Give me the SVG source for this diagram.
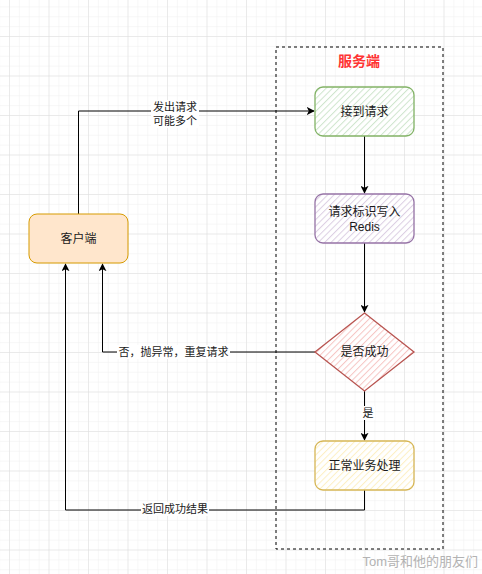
<svg xmlns="http://www.w3.org/2000/svg" width="482" height="574" viewBox="0 0 482 574">
<defs>
<pattern id="gridMinor" x="9" y="-3.5" width="9.875" height="9.875" patternUnits="userSpaceOnUse">
<path d="M0 0 H9.875 M0 0 V9.875" fill="none" stroke="#f0f0f0" stroke-width="1"/>
</pattern>
<pattern id="gridMajor" x="9" y="-3.5" width="39.5" height="39.5" patternUnits="userSpaceOnUse">
<path d="M0 0 H39.5 M0 0 V39.5" fill="none" stroke="#dedede" stroke-width="1"/>
</pattern>
<pattern id="hGreen" width="4.5" height="4.5" patternUnits="userSpaceOnUse" patternTransform="rotate(45)">
<rect width="4.5" height="4.5" fill="#ffffff"/><line x1="0" y1="0" x2="0" y2="4.5" stroke="#cfe5cd" stroke-width="2"/>
</pattern>
<pattern id="hPurple" width="4.5" height="4.5" patternUnits="userSpaceOnUse" patternTransform="rotate(45)">
<rect width="4.5" height="4.5" fill="#ffffff"/><line x1="0" y1="0" x2="0" y2="4.5" stroke="#dccfe3" stroke-width="2"/>
</pattern>
<pattern id="hRed" width="4.5" height="4.5" patternUnits="userSpaceOnUse" patternTransform="rotate(45)">
<rect width="4.5" height="4.5" fill="#ffffff"/><line x1="0" y1="0" x2="0" y2="4.5" stroke="#f6c6c4" stroke-width="2"/>
</pattern>
<pattern id="hYellow" width="4.5" height="4.5" patternUnits="userSpaceOnUse" patternTransform="rotate(45)">
<rect width="4.5" height="4.5" fill="#ffffff"/><line x1="0" y1="0" x2="0" y2="4.5" stroke="#fdefc4" stroke-width="2"/>
</pattern>
<marker id="arrow" viewBox="0 0 10 10" refX="9" refY="5" markerWidth="8" markerHeight="8" markerUnits="userSpaceOnUse" orient="auto">
<path d="M0 0 L10 5 L0 10 L2.5 5 Z" fill="#000"/>
</marker>
</defs>
<style>
text { font-family: "Liberation Sans", "Noto Sans CJK SC", sans-serif; fill: #1a1a1a; }
.node { font-size: 12px; text-anchor: middle; dominant-baseline: central; }
.lbl { font-size: 11px; text-anchor: middle; dominant-baseline: central; }
.edge { fill: none; stroke: #000; stroke-width: 1; }
.bg { fill: #ffffff; }
</style>
<rect width="482" height="574" fill="#ffffff"/>
<rect width="482" height="574" fill="url(#gridMinor)"/>
<rect width="482" height="574" fill="url(#gridMajor)"/>

<g id="server-container">
<rect x="276" y="47" width="167" height="502" fill="none" stroke="#000" stroke-width="1" stroke-dasharray="3 3"/>
<text x="359" y="61" style="font-size:14px;font-weight:bold;fill:#ff3333;text-anchor:middle;dominant-baseline:central;">服务端</text>
</g>

<g id="connectors">
<path class="edge" d="M78.5 214 V111 H314" marker-end="url(#arrow)"/>
<rect x="151" y="100" width="48" height="28" class="bg"/>
<text class="lbl" x="175" y="107">发出请求</text>
<text class="lbl" x="175" y="121">可能多个</text>

<path class="edge" d="M364.5 136 V193" marker-end="url(#arrow)"/>
<path class="edge" d="M364.5 243 V312" marker-end="url(#arrow)"/>

<path class="edge" d="M315 352 H102.5 V264" marker-end="url(#arrow)"/>
<rect x="117" y="345" width="113" height="14" class="bg"/>
<text class="lbl" x="173.5" y="352">否，抛异常，重复请求</text>

<path class="edge" d="M364.5 391 V440" marker-end="url(#arrow)"/>
<rect x="361" y="406" width="14" height="14" class="bg"/>
<text class="lbl" x="368" y="413">是</text>

<path class="edge" d="M364.5 490 V510 H65.5 V264" marker-end="url(#arrow)"/>
<rect x="141" y="502" width="68" height="14" class="bg"/>
<text class="lbl" x="175" y="509">返回成功结果</text>
</g>

<g id="client">
<rect x="29" y="214" width="99" height="49" rx="8" fill="#ffe6cc" stroke="#d79b00" stroke-width="1"/>
<text class="node" x="78.5" y="238.5">客户端</text>
</g>

<g id="receive">
<rect x="315" y="87" width="99" height="49" rx="8" fill="url(#hGreen)" stroke="#82b366" stroke-width="1.3"/>
<text class="node" x="364.5" y="111.5">接到请求</text>
</g>

<g id="write-redis">
<rect x="315" y="194" width="99" height="49" rx="8" fill="url(#hPurple)" stroke="#9673a6" stroke-width="1.3"/>
<text class="node" x="364.5" y="211.5">请求标识写入</text>
<text class="node" x="364.5" y="226.5">Redis</text>
</g>

<g id="check-success">
<path d="M364.5 313 L414 352 L364.5 391 L315 352 Z" fill="url(#hRed)" stroke="#b85450" stroke-width="1.3"/>
<text class="node" x="364.5" y="352">是否成功</text>
</g>

<g id="normal-process">
<rect x="315" y="441" width="99" height="49" rx="8" fill="url(#hYellow)" stroke="#d6b656" stroke-width="1.3"/>
<text class="node" x="364.5" y="465.5">正常业务处理</text>
</g>

<text x="478" y="566" style="font-size:13px;fill:#b3b3b3;text-anchor:end;">Tom哥和他的朋友们</text>
</svg>
